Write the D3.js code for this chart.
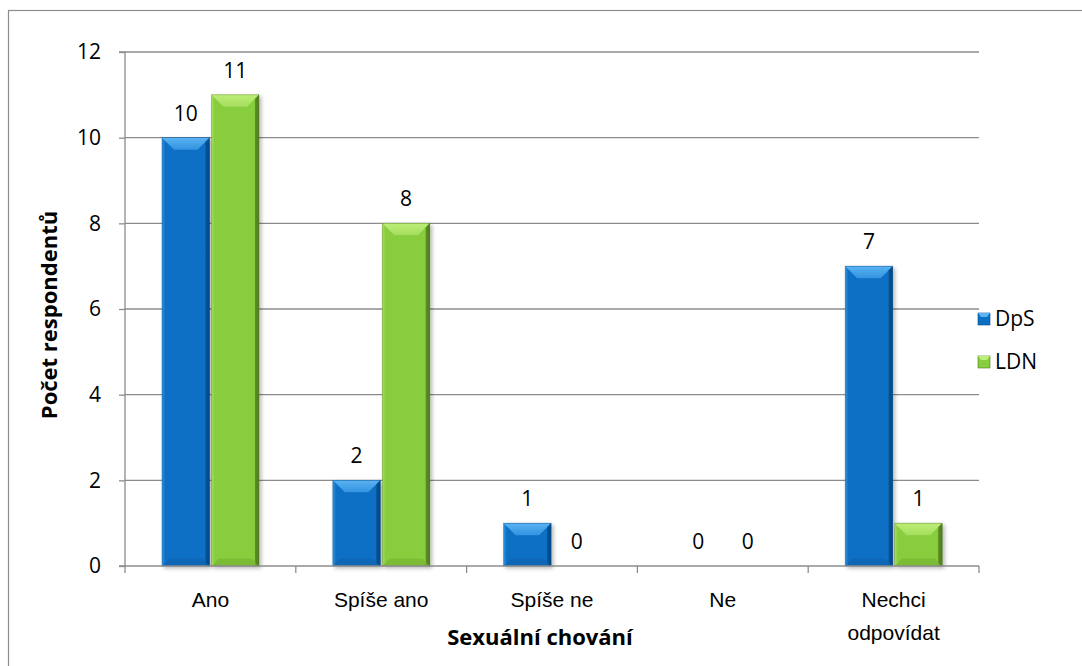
<!DOCTYPE html>
<html>
<head>
<meta charset="utf-8">
<script src="https://cdn.jsdelivr.net/npm/d3@7"></script>
<style>
  html, body { margin: 0; padding: 0; background: #fff; }
  svg { display: block; font-family: "Open Sans", Lato, "Liberation Sans", sans-serif; }
</style>
</head>
<body>
<svg id="chart" width="1082" height="666"></svg>
<script>
// Answers per category, two facility types
const categories = ["Ano", "Spíše ano", "Spíše ne", "Ne", "Nechci odpovídat"];
const seriesNames = ["DpS", "LDN"];
const dpsValues = [10, 2, 1, 0, 7];
const ldnValues = [11, 8, 0, 0, 1];
const yTicks = [0, 2, 4, 6, 8, 10, 12];

const colors = {
  DpS: { base: "#0b6fc4", light: "#3393e0", top: "#5ab3f2", dark: "#064a85" },
  LDN: { base: "#88cd3d", light: "#a4dd5c", top: "#bdee78", dark: "#4f7a1e" }
};

const FS = 21;
const svg = d3.select("#chart");
const W = 1082, H = 666;
const plot = { left: 125, right: 979, top: 52, bottom: 566 };

// Outer chart frame
svg.append("rect")
  .attr("x", 8.5).attr("y", 10.5)
  .attr("width", W + 20).attr("height", H + 20)
  .attr("fill", "none").attr("stroke", "#8c8c8c").attr("stroke-width", 1.2);

const x0 = d3.scaleBand().domain(categories).range([plot.left, plot.right]);
const x1 = d3.scaleBand().domain(seriesNames).range([37, 134]).paddingInner(0.04);
const y = d3.scaleLinear().domain([0, 12]).range([plot.bottom, plot.top]);

// Gridlines
svg.append("g").selectAll("line").data(yTicks.filter(d => d > 0)).join("line")
  .attr("x1", plot.left).attr("x2", plot.right)
  .attr("y1", d => y(d)).attr("y2", d => y(d))
  .attr("stroke", "#8c8c8c").attr("stroke-width", 1.3);

// Drop shadow filter for bars
const defs = svg.append("defs");
const f = defs.append("filter").attr("id", "shadow").attr("x", "-20%").attr("y", "-20%").attr("width", "150%").attr("height", "150%");
f.append("feGaussianBlur").attr("in", "SourceAlpha").attr("stdDeviation", 2.2);
f.append("feOffset").attr("dx", 1.5).attr("dy", 1.5).attr("result", "b");
f.append("feComponentTransfer").append("feFuncA").attr("type", "linear").attr("slope", 0.3);
const m = f.append("feMerge");
m.append("feMergeNode");
m.append("feMergeNode").attr("in", "SourceGraphic");

seriesNames.forEach(s => {
  const c = colors[s];
  const g = defs.append("linearGradient").attr("id", "body-" + s).attr("x1", 0).attr("x2", 1).attr("y1", 0).attr("y2", 0);
  g.append("stop").attr("offset", "0%").attr("stop-color", c.light);
  g.append("stop").attr("offset", "7%").attr("stop-color", c.base);
  g.append("stop").attr("offset", "90%").attr("stop-color", c.base);
  g.append("stop").attr("offset", "100%").attr("stop-color", c.dark);
  const t = defs.append("linearGradient").attr("id", "top-" + s).attr("x1", 0).attr("x2", 0).attr("y1", 0).attr("y2", 1);
  t.append("stop").attr("offset", "0%").attr("stop-color", c.top);
  t.append("stop").attr("offset", "100%").attr("stop-color", c.light);
});

const rows = categories.map((cat, i) => ({ cat, vals: [
  { s: "DpS", v: dpsValues[i] },
  { s: "LDN", v: ldnValues[i] }
]}));

const groups = svg.append("g").selectAll("g").data(rows).join("g")
  .attr("transform", d => `translate(${x0(d.cat)},0)`);

// Draws a bevelled bar for one value
function bevelBar(sel, d) {
  const c = colors[d.s];
  const bx = x1(d.s), bw = x1.bandwidth();
  const top = y(d.v), bot = y(0), bh = bot - top;
  if (bh <= 0) return;
  const b = Math.min(12, bh / 3);
  const g = sel.append("g").attr("filter", "url(#shadow)");
  g.append("rect").attr("x", bx).attr("y", top).attr("width", bw).attr("height", bh)
    .attr("fill", `url(#body-${d.s})`);
  // top bevel
  g.append("path")
    .attr("d", `M${bx},${top} L${bx + bw},${top} L${bx + bw - b},${top + b} L${bx + b},${top + b} Z`)
    .attr("fill", `url(#top-${d.s})`);
  // right bevel
  g.append("path")
    .attr("d", `M${bx + bw},${top} L${bx + bw},${bot} L${bx + bw - 4},${bot - 4} L${bx + bw - 4},${top + 4} Z`)
    .attr("fill", c.dark).attr("opacity", 0.7);
  // bottom bevel
  g.append("path")
    .attr("d", `M${bx},${bot} L${bx + bw},${bot} L${bx + bw - b * 0.6},${bot - b * 0.6} L${bx + b * 0.6},${bot - b * 0.6} Z`)
    .attr("fill", c.dark).attr("opacity", 0.22);
  g.append("rect").attr("x", bx).attr("y", top).attr("width", bw).attr("height", bh)
    .attr("fill", "none").attr("stroke", c.dark).attr("stroke-width", 0.6).attr("opacity", 0.6);
}

groups.each(function(d) {
  const sel = d3.select(this);
  d.vals.forEach(v => bevelBar(sel, v));
  sel.selectAll("text.val").data(d.vals).join("text")
    .attr("class", "val")
    .attr("x", v => x1(v.s) + x1.bandwidth() / 2)
    .attr("y", v => y(v.v) - 17)
    .attr("text-anchor", "middle")
    .attr("font-size", FS)
    .attr("fill", "#000")
    .text(v => v.v);
});

// Y axis
const yAxis = svg.append("g").attr("transform", `translate(${plot.left},0)`)
  .call(d3.axisLeft(y).tickValues(yTicks).tickSize(6).tickPadding(18).tickFormat(d3.format("d")));
yAxis.select(".domain").attr("stroke", "#8c8c8c").attr("stroke-width", 1.3).attr("d", `M-6,${plot.top}H0V${plot.bottom}H-6`);
yAxis.selectAll(".tick line").attr("stroke", "#8c8c8c").attr("stroke-width", 1.3);
yAxis.selectAll(".tick text").attr("font-size", FS).attr("fill", "#000").attr("font-family", "'Open Sans', sans-serif");

// X axis
const xAxis = svg.append("g").attr("transform", `translate(0,${plot.bottom})`)
  .call(d3.axisBottom(x0).tickSize(0).tickPadding(0));
xAxis.select(".domain").attr("stroke", "#8c8c8c").attr("stroke-width", 1.3).attr("d", `M${plot.left},0H${plot.right}`);
xAxis.selectAll(".tick text").remove();
const bounds = categories.map(c => x0(c)).concat([plot.right]);
xAxis.selectAll("line.cat").data(bounds).join("line").attr("class", "cat")
  .attr("x1", d => d).attr("x2", d => d).attr("y1", 0).attr("y2", 7)
  .attr("stroke", "#8c8c8c").attr("stroke-width", 1.3);

// Category labels, wrapped on word break when long
xAxis.selectAll("text.cat").data(categories).join("text").attr("class", "cat")
  .attr("x", d => x0(d) + x0.bandwidth() / 2)
  .attr("text-anchor", "middle")
  .attr("font-size", FS)
  .attr("fill", "#000")
  .each(function(d) {
    const words = d.length > 12 ? d.split(" ") : [d];
    const t = d3.select(this);
    words.forEach((w, i) => t.append("tspan")
      .attr("x", x0(d) + x0.bandwidth() / 2)
      .attr("y", 41 + i * 33).text(w));
  });

// Axis titles
svg.append("text")
  .attr("x", 540).attr("y", 645)
  .attr("text-anchor", "middle").attr("font-size", 22).attr("font-weight", "bold")
  .text("Sexuální chování");
svg.append("text")
  .attr("transform", `translate(57,315) rotate(-90)`)
  .attr("text-anchor", "middle").attr("font-size", 22).attr("font-weight", "bold")
  .text("Počet respondentů");

// Legend
const legend = svg.append("g").attr("transform", "translate(978,313)");
seriesNames.forEach((s, i) => {
  const g = legend.append("g").attr("transform", `translate(0,${i * 43})`);
  const c = colors[s];
  g.append("rect").attr("x", 0).attr("y", 0).attr("width", 12).attr("height", 12).attr("fill", c.base)
    .attr("stroke", c.dark).attr("stroke-width", 0.6);
  g.append("path").attr("d", "M0,0 L12,0 L9,4 L3,4 Z").attr("fill", c.top);
  g.append("text").attr("x", 17).attr("y", 13).attr("font-size", FS).text(s);
});
</script>
</body>
</html>
